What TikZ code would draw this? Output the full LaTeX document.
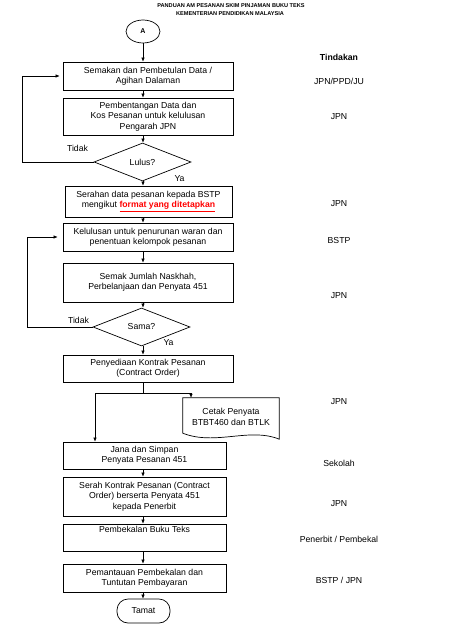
\documentclass[tikz,border=0pt]{standalone}
\usepackage{fontspec}
\setmainfont{Liberation Sans}
\usetikzlibrary{shapes.geometric,arrows.meta}
\begin{document}
\begin{tikzpicture}[x=1pt,y=-1pt,
  every node/.style={font=\fontsize{8.7}{10.3}\selectfont},
  box/.style={draw,line width=0.7pt,inner sep=1pt,align=center},
  dia/.style={draw,line width=0.7pt,diamond,inner sep=0pt,minimum width=97pt,minimum height=38pt},
  arr/.style={line width=0.6pt,-{Latex[length=4pt,width=3.5pt]}},
  lbl/.style={inner sep=0pt},
  title/.style={font=\fontsize{5.6}{6.5}\selectfont\bfseries,inner sep=0pt}]
\useasboundingbox (0,0) rectangle (452,636);
% title
\node[title] (t1) at (231,5.5) {PANDUAN AM PESANAN SKIM PINJAMAN BUKU TEKS};
\node[title] (t2) at (230,13.5) {KEMENTERIAN PENDIDIKAN MALAYSIA};
% start
\node[draw,ellipse,line width=0.7pt,minimum width=34pt,minimum height=23pt,inner sep=0pt,font=\fontsize{7}{8}\selectfont\bfseries] (A) at (143,31.5) {A};
% boxes
\node[box,minimum width=170pt,minimum height=28pt] (b1) at (148,76) {Semakan dan Pembetulan Data /\\Agihan Dalaman};
\node[box,minimum width=170pt,minimum height=37pt] (b2) at (148,116.5) {Pembentangan Data dan\\Kos Pesanan untuk kelulusan\\Pengarah JPN};
\node[dia] (d1) at (142.5,162) {Lulus?};
\node[box,minimum width=167pt,minimum height=31pt] (b3) at (148.5,201.5) {Serahan data pesanan kepada BSTP\\mengikut \textcolor{red}{\textbf{\underline{format yang ditetapkan}}}};
\node[box,minimum width=170pt,minimum height=28pt] (b4) at (148,237) {Kelulusan untuk penurunan waran dan\\penentuan kelompok pesanan};
\node[box,minimum width=170pt,minimum height=39pt] (b5) at (148,282.5) {Semak Jumlah Naskhah,\\Perbelanjaan dan Penyata 451};
\node[dia] (d2) at (141.5,327) {Sama?};
\node[box,minimum width=170pt,minimum height=27pt] (b6) at (148,368.5) {Penyediaan Kontrak Pesanan\\(Contract Order)};
\node[inner sep=0pt,minimum width=96pt,minimum height=38pt,align=center] (doc) at (231,417) {Cetak Penyata\\BTBT460 dan BTLK};
\draw[line width=0.7pt] (doc.north west) -- (doc.north east) -- ([yshift=-3pt]doc.south east)
   .. controls (250,427) and (215,446) .. ([yshift=3pt]doc.south west) -- cycle;
\node[box,minimum width=163pt,minimum height=27pt] (b7) at (144.5,455.5) {Jana dan Simpan\\Penyata Pesanan 451};
\node[box,minimum width=163pt,minimum height=39pt] (b8) at (144.5,496.5) {Serah Kontrak Pesanan (Contract\\Order) berserta Penyata 451\\kepada Penerbit};
\node[box,minimum width=163pt,minimum height=27pt,text depth=16pt] (b9) at (144.5,537.5) {Pembekalan Buku Teks};
\node[box,minimum width=163pt,minimum height=28pt] (b10) at (144.5,578) {Pemantauan Pembekalan dan\\Tuntutan Pembayaran};
\node[draw,line width=0.7pt,rounded corners=11pt,minimum width=53pt,minimum height=24pt,inner sep=0pt] (end) at (143.5,611) {Tamat};
% labels on branches
\node[lbl] (ti1) at (77.5,148) {Tidak};
\node[lbl] (ya1) at (179.5,178.5) {Ya};
\node[lbl] (ti2) at (78.5,320) {Tidak};
\node[lbl] (ya2) at (168.5,343) {Ya};
% right column
\node[lbl,font=\fontsize{8.7}{10.3}\selectfont\bfseries] (h) at (339,57) {Tindakan};
\node[lbl] (r1) at (339,81) {JPN/PPD/JU};
\node[lbl] (r2) at (339,117) {JPN};
\node[lbl] (r3) at (339,204) {JPN};
\node[lbl] (r4) at (339,241) {BSTP};
\node[lbl] (r5) at (339,296) {JPN};
\node[lbl] (r6) at (339,402) {JPN};
\node[lbl] (r7) at (339,463) {Sekolah};
\node[lbl] (r8) at (339,504) {JPN};
\node[lbl] (r9) at (339,539) {Penerbit / Pembekal};
\node[lbl] (r10) at (339,580) {BSTP / JPN};
% coordinates
\coordinate (l1) at (22,0);
\coordinate (l2) at (27,0);
\coordinate (sp) at (143,393);
\coordinate (sl) at (95,393);
\coordinate (sr) at (191,393);
% connectors
\draw[arr] (A.south) -- (b1.north -| A.south);
\draw[arr] (b1.south -| A.south) -- (b2.north -| A.south);
\draw[arr] (b2.south -| A.south) -- (d1.north -| A.south);
\draw[arr] (d1.south -| A.south) -- (b3.north -| A.south);
\draw[arr,shorten >=3pt] (d1.west) -- (d1.west -| l1) |- (b1.west);
\draw[arr] (b3.south -| A.south) -- (b4.north -| A.south);
\draw[arr] (b4.south -| A.south) -- (b5.north -| A.south);
\draw[arr] (b5.south -| A.south) -- (d2.north -| A.south);
\draw[arr] (d2.south -| A.south) -- (b6.north -| A.south);
\draw[arr,shorten >=5pt] (d2.west) -- (d2.west -| l2) |- (b4.west);
\draw[line width=0.6pt] (b6.south -| sp) -- (sp);
\draw[arr] (sp) -- (sl) -- (sl |- b7.north);
\draw[arr] (sp) -- (sr) -- (sr |- doc.north);
\draw[arr] (b7.south -| A.south) -- (b8.north -| A.south);
\draw[arr] (b8.south -| A.south) -- (b9.north -| A.south);
\draw[arr] (b9.south -| A.south) -- (b10.north -| A.south);
\draw[arr] (b10.south -| A.south) -- (end.north -| A.south);
\end{tikzpicture}
\end{document}
